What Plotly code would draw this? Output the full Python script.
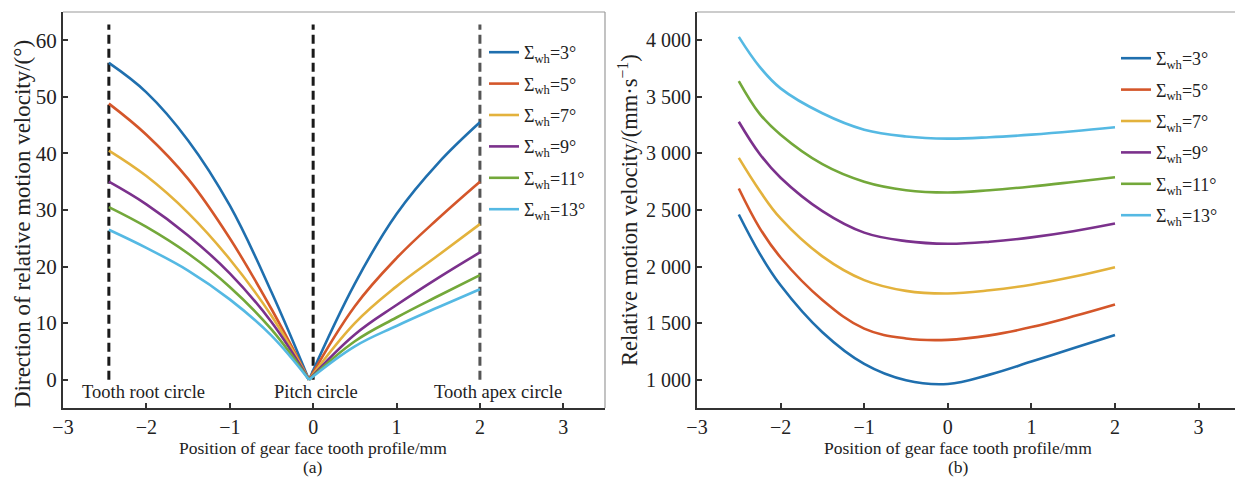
import plotly.graph_objects as go

# ---------------- data ----------------
angles = [3, 5, 7, 9, 11, 13]
legend_names = [f"Σ<sub>wh</sub>={a}°" for a in angles]
colors = ["#1f6fae", "#d4562a", "#e3b23c", "#7b318c", "#73a83a", "#55b9e3"]

# panel (a): direction of relative motion velocity (deg)
x_root_side = [-2.45, -2.0, -1.5, -1.0, -0.5, -0.05]
dir_root_side = [
    [56.0, 50.8, 42.3, 30.8, 15.5, 0.0],
    [48.8, 43.3, 35.5, 25.0, 12.5, 0.0],
    [40.5, 36.0, 29.5, 21.3, 11.3, 0.0],
    [35.0, 31.0, 25.5, 18.8, 10.2, 0.0],
    [30.5, 27.0, 22.3, 16.4, 8.9, 0.0],
    [26.5, 23.3, 19.3, 14.2, 7.8, 0.0],
]
x_apex_side = [-0.05, 0.5, 1.0, 1.5, 2.0]
dir_apex_side = [
    [0.0, 17.0, 29.3, 38.3, 45.5],
    [0.0, 13.0, 21.5, 28.5, 35.0],
    [0.0, 10.0, 16.5, 22.0, 27.5],
    [0.0, 8.0, 13.2, 18.0, 22.5],
    [0.0, 6.8, 11.0, 14.8, 18.5],
    [0.0, 5.9, 9.5, 12.8, 16.0],
]
boundary_x = [-2.45, 0.0, 2.0]
boundary_colors = ["#1a1a1a", "#1a1a1a", "#555555"]
boundary_top = 62.8
boundary_labels = ["Tooth root circle", "Pitch circle", "Tooth apex circle"]
boundary_label_x = [-2.04, 0.03, 2.22]
boundary_label_y = -2.2

# panel (b): relative motion velocity (mm/s)
x_vel = [-2.5, -2.25, -2.0, -1.5, -1.0, -0.5, 0.0, 0.5, 1.0, 1.5, 2.0]
vel = [
    [2460, 2115, 1835, 1420, 1140, 995, 962, 1045, 1160, 1278, 1395],
    [2690, 2340, 2080, 1705, 1452, 1365, 1352, 1392, 1465, 1560, 1665],
    [2960, 2670, 2425, 2090, 1880, 1785, 1762, 1790, 1840, 1910, 1995],
    [3280, 2995, 2785, 2490, 2300, 2225, 2202, 2220, 2258, 2312, 2380],
    [3640, 3350, 3165, 2905, 2750, 2675, 2655, 2675, 2708, 2748, 2790],
    [4030, 3765, 3575, 3355, 3210, 3150, 3131, 3143, 3166, 3196, 3232],
]

x_ticks = [-3, -2, -1, 0, 1, 2, 3]
a_yticks = [0, 10, 20, 30, 40, 50, 60]
b_yticks = [1000, 1500, 2000, 2500, 3000, 3500, 4000]
b_yticktext = ["1 000", "1 500", "2 000", "2 500", "3 000", "3 500", "4 000"]

# ---------------- figure ----------------
W, H = 1235, 479
ML, MR, MT, MB = 63, 0, 12, 71
PW = W - ML - MR
FONT = "Liberation Serif, Times New Roman, serif"
TXT = "#222222"

fig = go.Figure()

# dashed boundary lines (panel a)
for bx, bc in zip(boundary_x, boundary_colors):
    fig.add_trace(go.Scatter(x=[bx, bx], y=[0, boundary_top], mode="lines",
                             line=dict(color=bc, width=3, dash="9px,5px"),
                             showlegend=False, hoverinfo="skip", xaxis="x", yaxis="y"))

LW = 2.6
SM = 1.1
for i, name in enumerate(legend_names):
    fig.add_trace(go.Scatter(x=x_root_side, y=dir_root_side[i], mode="lines",
                             line=dict(color=colors[i], width=LW, shape="spline", smoothing=SM),
                             name=name, legendgroup=f"a{i}", legend="legend",
                             xaxis="x", yaxis="y"))
    fig.add_trace(go.Scatter(x=x_apex_side, y=dir_apex_side[i], mode="lines",
                             line=dict(color=colors[i], width=LW, shape="spline", smoothing=SM),
                             name=name, legendgroup=f"a{i}", showlegend=False,
                             xaxis="x", yaxis="y"))

for i, name in enumerate(legend_names):
    fig.add_trace(go.Scatter(x=x_vel, y=vel[i], mode="lines",
                             line=dict(color=colors[i], width=LW, shape="spline", smoothing=SM),
                             name=name, legendgroup=f"b{i}", legend="legend2",
                             xaxis="x2", yaxis="y2"))

for lbl, lx in zip(boundary_labels, boundary_label_x):
    fig.add_annotation(x=lx, y=boundary_label_y, xref="x", yref="y", text=lbl,
                       xanchor="center", yanchor="middle",
                       showarrow=False, font=dict(size=18.5, color=TXT, family=FONT))

def px_x(p):
    return (p - ML) / PW

def px_y(p):
    return (H - MB - p) / (H - MT - MB)

axis_common = dict(showgrid=False, zeroline=False, showline=True, linecolor="#333333",
                   linewidth=2, ticks="inside", ticklen=5, tickwidth=1.5, tickcolor="#333333",
                   tickfont=dict(size=20, color=TXT, family=FONT))

dA = [0, px_x(605)]
dB = [px_x(697), 1]

fig.update_layout(
    width=W, height=H, margin=dict(l=ML, r=MR, t=MT, b=MB),
    paper_bgcolor="white", plot_bgcolor="white",
    font=dict(family=FONT, color=TXT),
    xaxis=dict(domain=dA, range=[-3, 3.5], tickvals=x_ticks, anchor="y", **axis_common),
    yaxis=dict(domain=[0, 1], range=[-5, 65], tickvals=a_yticks, anchor="x",
               **{**axis_common, "tickfont": dict(size=21, color=TXT, family=FONT)}),
    xaxis2=dict(domain=dB, range=[-3, -3 + (W - 697) / 83.6], tickvals=x_ticks, anchor="y2",
                **axis_common),
    yaxis2=dict(domain=[0, 1], range=[750, 4250], tickvals=b_yticks, ticktext=b_yticktext,
                anchor="x2", **axis_common),
    legend=dict(x=px_x(484), y=px_y(34), xanchor="left", yanchor="top",
                bgcolor="rgba(0,0,0,0)", font=dict(size=18, color=TXT, family=FONT),
                tracegroupgap=5, itemwidth=30),
    legend2=dict(x=px_x(1116), y=px_y(40), xanchor="left", yanchor="top",
                 bgcolor="rgba(0,0,0,0)", font=dict(size=18, color=TXT, family=FONT),
                 tracegroupgap=5, itemwidth=30),
    showlegend=True,
)

# light frame (top/right) for the panels
fig.add_shape(type="line", xref="x domain", yref="y domain", x0=0, x1=1, y0=1, y1=1,
              line=dict(color="#9a9a9a", width=1.2))
fig.add_shape(type="line", xref="x domain", yref="y domain", x0=1, x1=1, y0=0, y1=1,
              line=dict(color="#9a9a9a", width=1.2))
fig.add_shape(type="line", xref="x2 domain", yref="y2 domain", x0=0, x1=1, y0=1, y1=1,
              line=dict(color="#9a9a9a", width=1.2))

# axis titles and panel labels
fig.add_annotation(x=px_x(22), y=px_y(224), xref="paper", yref="paper", textangle=-90,
                   xanchor="center", yanchor="middle",
                   text="Direction of relative motion velocity/(°)", showarrow=False,
                   font=dict(size=23, color=TXT, family=FONT))
fig.add_annotation(x=px_x(628), y=px_y(210), xref="paper", yref="paper", textangle=-90,
                   xanchor="center", yanchor="middle",
                   text="Relative motion velocity/(mm·s<sup>−1</sup>)", showarrow=False,
                   font=dict(size=22.5, color=TXT, family=FONT))
for cx, lab in [(313, "(a)"), (958, "(b)")]:
    fig.add_annotation(x=px_x(cx), y=px_y(448), xref="paper", yref="paper",
                       xanchor="center", yanchor="middle",
                       text="Position of gear face tooth profile/mm", showarrow=False,
                       font=dict(size=17.5, color=TXT, family=FONT))
    fig.add_annotation(x=px_x(cx), y=px_y(467), xref="paper", yref="paper",
                       xanchor="center", yanchor="middle",
                       text=lab, showarrow=False, font=dict(size=17.5, color=TXT, family=FONT))

fig.write_html("out.html")
